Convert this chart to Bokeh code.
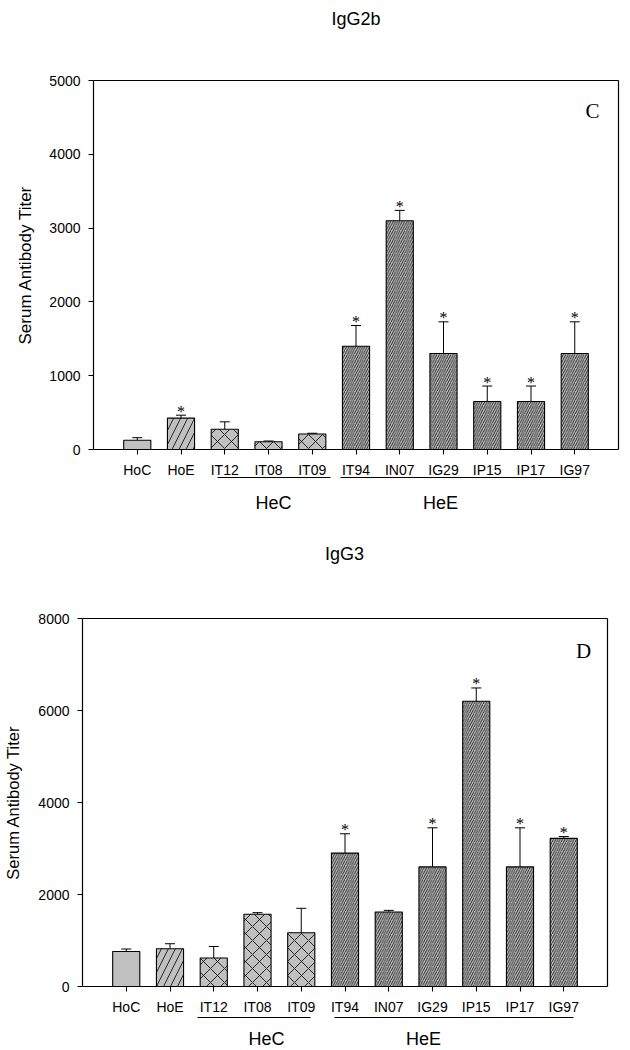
from bokeh.plotting import figure
from bokeh.models import (FixedTicker, Label, Arrow, Whisker, TeeHead,
                          ColumnDataSource, Range1d, LinearAxis)
from bokeh.layouts import column
from bokeh.embed import file_html
from bokeh.resources import INLINE
from bokeh.core.properties import value

# ---------------- data ----------------
categories = ["HoC", "HoE", "IT12", "IT08", "IT09", "IT94", "IN07", "IG29", "IP15", "IP17", "IG97"]
group_of = ["HoC", "HoE", "HeC", "HeC", "HeC", "HeE", "HeE", "HeE", "HeE", "HeE", "HeE"]

igg2b_mean = [125, 425, 275, 105, 210, 1400, 3100, 1300, 650, 650, 1300]
igg2b_err = [35, 40, 100, 10, 10, 280, 140, 430, 210, 210, 430]
igg2b_sig = [0, 1, 0, 0, 0, 1, 1, 1, 1, 1, 1]

igg3_mean = [760, 820, 620, 1570, 1170, 2900, 1620, 2600, 6200, 2600, 3220]
igg3_err = [55, 110, 250, 35, 530, 420, 35, 850, 290, 850, 40]
igg3_sig = [0, 0, 0, 0, 0, 1, 0, 1, 1, 1, 1]

y_ticks_2b = [0, 1000, 2000, 3000, 4000, 5000]
y_ticks_3 = [0, 2000, 4000, 6000, 8000]

# ---------------- style ----------------
SANS = "Liberation Sans"
SERIF = "Liberation Serif"
BAR_FILL = "#c0c0c0"
hatch_style = {"HoC": (" ", 12), "HoE": ("/", 14), "HeC": ("x", 14), "HeE": ("/", 4.6)}
W = 630


def style_axis(ax, tick_out=5):
    ax.major_tick_in = 0
    ax.major_tick_out = tick_out
    ax.minor_tick_line_color = None
    ax.major_label_text_font = SANS
    ax.major_label_text_font_size = "14px"
    ax.major_label_text_color = "black"
    ax.axis_line_color = "black"
    ax.axis_line_width = 1.2
    ax.major_tick_line_width = 1.1
    ax.major_tick_line_color = "black"


def make_chart(title, letter, means, errs, sig, yticks, ymax, H, geom,
               axis_label_size, axis_label_standoff, ann):
    n = len(categories)
    xs = list(range(1, n + 1))
    xmax = n + 1
    x0p, x1p, y0p, y1p = geom          # frame pixel box inside this figure
    sx = (x1p - x0p) / xmax
    sy = (y0p - y1p) / ymax

    def xd(px):
        return (px - x0p) / sx

    def yd(py):
        return (y0p - py) / sy

    src = ColumnDataSource(dict(
        x=xs, cat=categories, mean=means,
        upper=[m + e for m, e in zip(means, errs)],
        star=["*" if s else "" for s in sig],
        hatch=[hatch_style[g][0] for g in group_of],
        hscale=[hatch_style[g][1] for g in group_of],
    ))

    p = figure(width=W, height=H, output_backend="svg", toolbar_location=None,
               x_range=Range1d(xd(0), xd(W)), y_range=Range1d(yd(H), yd(0)),
               x_axis_type=None, y_axis_type=None,
               min_border=0, min_border_left=0, min_border_right=0,
               min_border_top=0, min_border_bottom=0)
    p.background_fill_color = "white"
    p.border_fill_color = "white"
    p.outline_line_color = None
    p.xgrid.visible = False
    p.ygrid.visible = False

    p.vbar(x="x", top="mean", bottom=0, width=0.62, source=src,
           fill_color=BAR_FILL, line_color="black", line_width=1.1,
           hatch_pattern="hatch", hatch_scale="hscale", hatch_color="black",
           hatch_weight=0.8)

    p.add_layout(Whisker(source=src, base="x", lower="mean", upper="upper",
                         dimension="height", line_color="black", line_width=1,
                         upper_head=TeeHead(size=10, line_color="black", line_width=1),
                         lower_head=None))

    p.text(x="x", y="upper", text="star", source=src, text_align="center",
           text_baseline="alphabetic", y_offset=-4, text_font=value(SERIF),
           text_font_size="16px", text_color="black")

    # x axis at y = 0
    xa = LinearAxis(fixed_location=0, bounds=(0, xmax), ticker=FixedTicker(ticks=xs),
                    major_label_overrides={x: c for x, c in zip(xs, categories)})
    style_axis(xa)
    xa.major_label_standoff = 7
    p.add_layout(xa, "below")

    # y axis at x = 0
    ya = LinearAxis(fixed_location=0, bounds=(0, ymax), ticker=FixedTicker(ticks=yticks))
    style_axis(ya)
    ya.major_label_standoff = 8
    ya.axis_label = "Serum Antibody Titer"
    ya.axis_label_text_font = SANS
    ya.axis_label_text_font_style = "normal"
    ya.axis_label_text_font_size = axis_label_size
    ya.axis_label_standoff = axis_label_standoff
    ya.axis_label_text_color = "black"
    p.add_layout(ya, "left")

    # frame top and right lines
    ta = LinearAxis(fixed_location=ymax, bounds=(0, xmax), ticker=FixedTicker(ticks=[]))
    style_axis(ta, tick_out=0)
    ta.major_label_text_font_size = "0px"
    p.add_layout(ta, "above")
    ra = LinearAxis(fixed_location=xmax, bounds=(0, ymax), ticker=FixedTicker(ticks=[]))
    style_axis(ra, tick_out=0)
    ra.major_label_text_font_size = "0px"
    p.add_layout(ra, "right")

    # title
    tx, ty = ann["title"]
    p.add_layout(Label(x=xd(tx), y=yd(ty), text=title,
                       text_align="center", text_baseline="middle",
                       text_font=SANS, text_font_size="18px", text_color="black"))
    # panel letter
    lx, ly = ann["letter"]
    p.add_layout(Label(x=xd(lx), y=yd(ly), text=letter,
                       text_align="center", text_baseline="middle",
                       text_font=SERIF, text_font_size="21px", text_color="black"))

    # group underlines and labels
    uy = yd(ann["underline_y"])
    gy = yd(ann["group_y"])
    for (x0, x1), name, gx in zip(ann["lines"], ["HeC", "HeE"], ann["group_x"]):
        p.add_layout(Arrow(x_start=xd(x0), y_start=uy, x_end=xd(x1), y_end=uy,
                           start=None, end=None, line_color="black", line_width=1.2))
        p.add_layout(Label(x=xd(gx), y=gy, text=name,
                           text_align="center", text_baseline="middle",
                           text_font=SANS, text_font_size="18px", text_color="black"))
    return p


H1 = 520
H2 = 528

p1 = make_chart("IgG2b", "C", igg2b_mean, igg2b_err, igg2b_sig, y_ticks_2b, 5000,
                H1, (93, 618, 449, 80), "17px", 11,
                dict(title=(355.5, 18.5), letter=(592, 110), underline_y=477, group_y=502,
                     lines=[(217, 330), (340, 579)], group_x=[273, 440]))

p2 = make_chart("IgG3", "D", igg3_mean, igg3_err, igg3_sig, y_ticks_3, 8000,
                H2, (82, 607, 466, 98), "16.5px", 13,
                dict(title=(344, 33.5), letter=(583, 130), underline_y=497, group_y=518,
                     lines=[(197, 310), (334, 573)], group_x=[266, 423]))

layout = column(p1, p2, spacing=0)
open("out.html", "w").write(file_html(layout, INLINE))
